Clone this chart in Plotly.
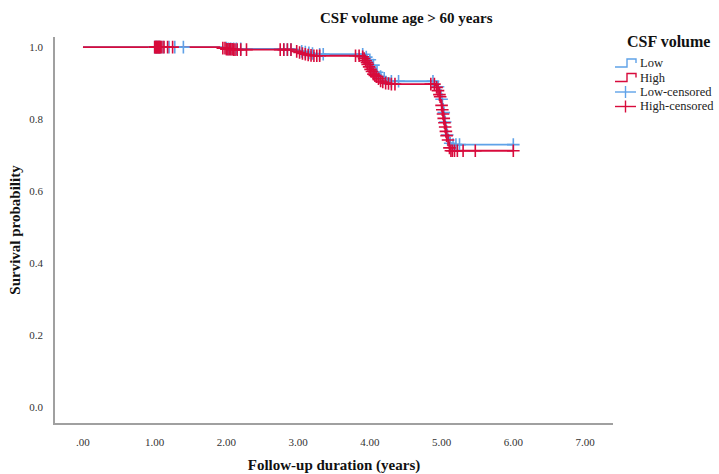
import plotly.graph_objects as go

# ---- data ----
x_tick_vals = [0, 1, 2, 3, 4, 5, 6, 7]
x_tick_text = [".00", "1.00", "2.00", "3.00", "4.00", "5.00", "6.00", "7.00"]
y_tick_vals = [0.0, 0.2, 0.4, 0.6, 0.8, 1.0]
y_tick_text = ["0.0", "0.2", "0.4", "0.6", "0.8", "1.0"]

legend_title = "CSF volume"
series_names = ["Low", "High", "Low-censored", "High-censored"]

# Low CSF volume: step curve (event times / survival)
low_time = [0, 1.95, 2.05, 2.95, 3.0, 3.04, 3.08, 3.12, 3.17, 3.22, 3.28,
            3.93, 3.96, 3.99, 4.02, 4.04, 4.06, 4.08, 4.10, 4.13, 4.16, 4.20, 4.24, 4.28,
            4.93, 4.95, 4.97, 4.99, 5.00, 5.01, 5.02, 5.03, 5.04, 5.05, 5.06, 5.07, 5.08,
            5.10, 5.12, 5.14, 6.0]
low_surv = [1.0, 0.997, 0.995, 0.993, 0.990, 0.988, 0.986, 0.984, 0.982, 0.981, 0.980,
            0.977, 0.972, 0.965, 0.958, 0.950, 0.943, 0.936, 0.930, 0.924, 0.918, 0.913, 0.909, 0.905,
            0.900, 0.890, 0.880, 0.868, 0.855, 0.842, 0.830, 0.818, 0.805, 0.792, 0.780, 0.768, 0.756,
            0.744, 0.733, 0.729, 0.729]

# High CSF volume: step curve
high_time = [0, 1.9, 2.0, 2.1, 2.93, 2.97, 3.0, 3.04, 3.08, 3.12, 3.17, 3.22,
             3.90, 3.93, 3.96, 3.98, 4.00, 4.02, 4.05, 4.08, 4.11, 4.15, 4.19, 4.24, 4.30,
             4.92, 4.94, 4.96, 4.98, 4.99, 5.00, 5.01, 5.02, 5.03, 5.04, 5.05, 5.06, 5.07,
             5.08, 5.10, 5.11, 5.12, 6.0]
high_surv = [1.0, 0.997, 0.994, 0.993, 0.991, 0.988, 0.985, 0.982, 0.980, 0.978, 0.977, 0.976,
             0.973, 0.965, 0.957, 0.948, 0.940, 0.932, 0.925, 0.918, 0.912, 0.906, 0.902, 0.899, 0.897,
             0.893, 0.884, 0.874, 0.862, 0.850, 0.838, 0.826, 0.814, 0.802, 0.790, 0.778, 0.766, 0.754,
             0.742, 0.730, 0.720, 0.712, 0.712]

# censored observations
low_cens_time = [1.0, 1.02, 1.04, 1.06, 1.08, 1.12, 1.2, 1.28, 1.4,
                 2.0, 2.03, 2.06, 2.1, 2.14, 2.2,
                 2.8, 2.85, 2.9, 3.05, 3.1, 3.15, 3.2, 3.3, 3.35,
                 3.9, 3.95, 4.0, 4.05, 4.1, 4.15, 4.2, 4.3, 4.4,
                 4.88, 4.95, 5.0, 5.03, 5.05, 5.08, 5.12, 5.16, 5.2, 5.25, 6.0]
low_cens_surv = [1.0, 1.0, 1.0, 1.0, 1.0, 1.0, 1.0, 1.0, 1.0,
                 0.997, 0.995, 0.995, 0.995, 0.995, 0.995,
                 0.993, 0.993, 0.993, 0.988, 0.986, 0.984, 0.982, 0.980, 0.980,
                 0.980, 0.972, 0.965, 0.950, 0.930, 0.918, 0.913, 0.905, 0.905,
                 0.905, 0.890, 0.855, 0.818, 0.792, 0.756, 0.733, 0.729, 0.729, 0.729, 0.729]

high_cens_time = [1.0, 1.01, 1.02, 1.03, 1.04, 1.05, 1.06, 1.07, 1.08, 1.1, 1.13, 1.18, 1.25,
                  1.95, 1.98, 2.0, 2.02, 2.04, 2.06, 2.08, 2.1, 2.12, 2.15, 2.2, 2.28,
                  2.75, 2.8, 2.85, 2.9, 2.98, 3.02, 3.06, 3.1, 3.14, 3.18, 3.22, 3.26, 3.3,
                  3.8, 3.85, 3.9, 3.92, 3.94, 3.96, 3.97, 3.99, 4.01, 4.03, 4.05, 4.07, 4.09,
                  4.12, 4.15, 4.18, 4.22, 4.26, 4.3, 4.35,
                  4.85, 4.9, 4.93, 4.95, 4.97, 4.98, 5.0, 5.01, 5.02, 5.03, 5.04, 5.05,
                  5.06, 5.07, 5.09, 5.11, 5.13, 5.15, 5.18, 5.22, 5.3, 5.47, 6.0]
high_cens_surv = [1.0, 1.0, 1.0, 1.0, 1.0, 1.0, 1.0, 1.0, 1.0, 1.0, 1.0, 1.0, 1.0,
                  0.997, 0.997, 0.994, 0.994, 0.994, 0.994, 0.994, 0.993, 0.993, 0.993, 0.993, 0.993,
                  0.993, 0.993, 0.993, 0.993, 0.988, 0.985, 0.982, 0.980, 0.978, 0.977, 0.976, 0.976, 0.976,
                  0.976, 0.976, 0.973, 0.968, 0.962, 0.957, 0.952, 0.945, 0.938, 0.932, 0.925, 0.921, 0.918,
                  0.912, 0.906, 0.903, 0.900, 0.899, 0.897, 0.897,
                  0.897, 0.897, 0.888, 0.879, 0.868, 0.862, 0.838, 0.826, 0.814, 0.802, 0.790, 0.778,
                  0.766, 0.754, 0.742, 0.720, 0.712, 0.712, 0.712, 0.712, 0.712, 0.712, 0.712]

# ---- style ----
BLUE = "#5FA2E8"
RED = "#D80B3C"
SERIF = "Liberation Serif, Times New Roman, serif"
W, H = 719, 474
ML, MR, MT, MB = 55, 106, 37, 51
PW, PH = W - ML - MR, H - MT - MB


def px(x):
    return (x - ML) / PW


def py(y):
    return (H - MB - y) / PH


fig = go.Figure()
fig.add_trace(go.Scatter(x=low_time, y=low_surv, mode="lines", name=series_names[0],
                         line=dict(color=BLUE, width=1.9, shape="hv")))
fig.add_trace(go.Scatter(x=high_time, y=high_surv, mode="lines", name=series_names[1],
                         line=dict(color=RED, width=1.9, shape="hv")))
fig.add_trace(go.Scatter(x=low_cens_time, y=low_cens_surv, mode="markers", name=series_names[2],
                         marker=dict(symbol="cross-thin", size=9, color=BLUE,
                                     line=dict(color=BLUE, width=1.6))))
fig.add_trace(go.Scatter(x=high_cens_time, y=high_cens_surv, mode="markers", name=series_names[3],
                         marker=dict(symbol="cross-thin", size=9, color=RED,
                                     line=dict(color=RED, width=1.6))))

# ---- custom legend (SPSS style) ----
shapes = []
annotations = []
annotations.append(dict(text="<b>" + legend_title + "</b>", xref="paper", yref="paper",
                        x=px(668), y=py(41), xanchor="center", yanchor="middle", showarrow=False,
                        font=dict(family=SERIF, size=16, color="#111")))
legend_colors = [BLUE, RED, BLUE, RED]
row_y = [63, 77.5, 92, 106.5]
for i, (name, col, cy) in enumerate(zip(series_names, legend_colors, row_y)):
    if i < 2:
        path = "M {},{} L {},{} L {},{} L {},{} L {},{}".format(
            px(615), py(cy + 4), px(627), py(cy + 4), px(627), py(cy - 4),
            px(636), py(cy - 4), px(636), py(cy))
        shapes.append(dict(type="path", path=path, xref="paper", yref="paper",
                           line=dict(color=col, width=1.4)))
    else:
        shapes.append(dict(type="line", xref="paper", yref="paper",
                           x0=px(615), x1=px(636), y0=py(cy), y1=py(cy),
                           line=dict(color=col, width=1.4)))
        shapes.append(dict(type="line", xref="paper", yref="paper",
                           x0=px(625.5), x1=px(625.5), y0=py(cy - 6), y1=py(cy + 6),
                           line=dict(color=col, width=1.4)))
    annotations.append(dict(text=name, xref="paper", yref="paper", x=px(638), y=py(cy),
                            xanchor="left", yanchor="middle", showarrow=False,
                            font=dict(family=SERIF, size=12.5, color="#222")))

fig.update_layout(
    width=W, height=H,
    margin=dict(l=ML, r=MR, t=MT, b=MB, autoexpand=False),
    paper_bgcolor="white", plot_bgcolor="white",
    font=dict(family=SERIF, color="#222", size=11),
    title=dict(text="<b>CSF volume age &gt; 60 years</b>", x=0.565, xanchor="center",
               y=0.962, yanchor="middle", font=dict(family=SERIF, size=15, color="#111")),
    showlegend=False,
    shapes=shapes,
    annotations=annotations,
)
fig.update_xaxes(range=[-0.39, 7.39], tickvals=x_tick_vals, ticktext=x_tick_text,
                 showgrid=False, zeroline=False, showline=True, linecolor="#a0a0a0", linewidth=1.5,
                 ticks="outside", ticklen=8, tickcolor="rgba(0,0,0,0)", automargin=False,
                 tickfont=dict(family=SERIF, size=11, color="#333"),
                 title=dict(text="<b>Follow-up duration (years)</b>", standoff=14,
                            font=dict(family=SERIF, size=15, color="#111")))
fig.update_yaxes(range=[-0.044, 1.028], tickvals=y_tick_vals, ticktext=y_tick_text,
                 showgrid=False, zeroline=False, showline=True, linecolor="#a0a0a0", linewidth=1.5,
                 ticks="outside", ticklen=8, tickcolor="rgba(0,0,0,0)", automargin=False,
                 tickfont=dict(family=SERIF, size=11, color="#333"),
                 title=dict(text="<b>Survival probability</b>", standoff=5,
                            font=dict(family=SERIF, size=15, color="#111")))

fig.write_html("out.html", config={"displayModeBar": False},
               post_script="document.body.style.margin='0px';document.body.style.overflow='hidden';")
